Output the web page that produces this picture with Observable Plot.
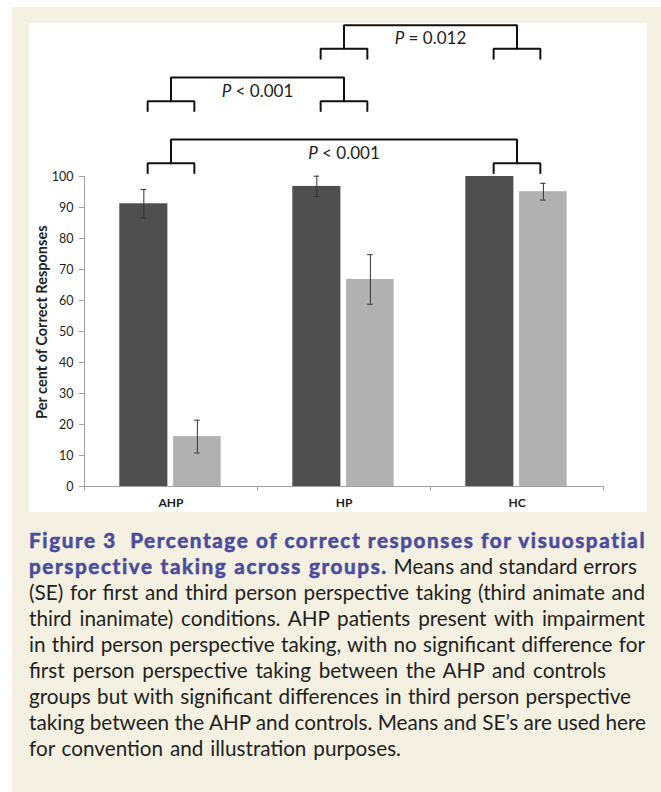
<!DOCTYPE html>
<html>
<head>
<meta charset="utf-8">
<script src="https://cdn.jsdelivr.net/npm/d3@7"></script>
<script src="https://cdn.jsdelivr.net/npm/@observablehq/plot@0.6"></script>
<style>
  html, body { margin: 0; padding: 0; background: #ffffff; }
  body { width: 661px; height: 792px; position: relative; overflow: hidden; }
  #cream { position: absolute; left: 12px; top: 7px; width: 649px; height: 785px; background: #f4f0e2; }
  #panel { position: absolute; left: 29px; top: 23px; width: 618px; height: 489px; background: #ffffff; }
  #panel svg { position: absolute; left: 0; top: 0; }
  #legend { position: absolute; left: 561px; top: 164px; font-family: Lato, sans-serif; font-size: 11.5px; color: #333; }
  #legend .item { height: 26px; display: flex; align-items: center; white-space: nowrap; }
  #legend .sw { width: 6px; height: 6px; margin-right: 3px; display: inline-block; }
  #caption { position: absolute; left: 29px; top: 527px; width: 640px; font-family: Lato, sans-serif; font-size: 20px; line-height: 26px; color: #231f20; }
  #caption .line { white-space: nowrap; height: 26px; }
  #caption b { color: #4b4c9d; font-weight: 700; -webkit-text-stroke: 0.6px #4b4c9d; }
</style>
</head>
<body>
<div id="cream"></div>
<div id="panel"><div id="legend"></div></div>
<div id="caption"></div>
<script>
// ---- data ----
const groups = ["AHP", "HP", "HC"];
const series = ["1st PPT", "3rd PPT"];
const firstMeans = [91.2, 96.8, 100];
const firstSE = [4.6, 3.3, 0];
const thirdMeans = [16.1, 66.8, 95.1];
const thirdSE = [5.3, 8.0, 2.7];
const yTicks = [0, 10, 20, 30, 40, 50, 60, 70, 80, 90, 100];
const bracketFrom = ["AHP", "AHP", "HP"];
const bracketTo = ["HC", "HP", "HC"];
const bracketLevel = [111.9, 131.9, 148.8];
const bracketLabel = ["P < 0.001", "P < 0.001", "P = 0.012"];
const yTitle = "Per cent of Correct Responses";
const captionTitle = ["Figure 3\u00a0\u00a0Percentage of correct responses for visuospatial", "perspective taking across groups."];
const captionLines = [
  " Means and standard errors",
  "(SE) for first and third person perspective taking (third animate and",
  "third inanimate) conditions. AHP patients present with impairment",
  "in third person perspective taking, with no significant difference for",
  "first person perspective taking between the AHP and controls",
  "groups but with significant differences in third person perspective",
  "taking between the AHP and controls. Means and SE\u2019s are used here",
  "for convention and illustration purposes."
];

// ---- derived tables ----
const colors = {"1st PPT": "#4f4f4f", "3rd PPT": "#b1b1b1"};
const barSpan = {"1st PPT": [0.204, 0.482], "3rd PPT": [0.515, 0.79]};
const gi = g => groups.indexOf(g);
const rows = groups.flatMap((g, i) => [
  {group: g, series: series[0], mean: firstMeans[i], se: firstSE[i]},
  {group: g, series: series[1], mean: thirdMeans[i], se: thirdSE[i]}
]);
const cx = d => gi(d.group) + (barSpan[d.series][0] + barSpan[d.series][1]) / 2;
const errRows = rows.filter(d => d.se > 0);
const capW = 0.016;

const HW = 0.135, RISE = 7.6, TICK = 3.2;
const bracketPaths = bracketFrom.flatMap((from, k) => {
  const cL = gi(from) + 0.5, cR = gi(bracketTo[k]) + 0.5;
  const top = bracketLevel[k], mid = top - RISE, low = mid - TICK;
  return [
    [[cL - HW, low], [cL - HW, mid], [cL + HW, mid], [cL + HW, low]],
    [[cR - HW, low], [cR - HW, mid], [cR + HW, mid], [cR + HW, low]],
    [[cL, mid], [cL, top], [cR, top], [cR, mid]]
  ].flatMap((pts, j) => pts.map(([x, y]) => ({x, y, id: k + "-" + j})));
});
const bracketText = bracketFrom.map((from, k) => ({
  x: (gi(from) + gi(bracketTo[k])) / 2 + 0.5,
  y: bracketLevel[k] - 4.4,
  label: bracketLabel[k]
}));
const boundaries = d3.range(groups.length + 1);

const chart = Plot.plot({
  width: 618,
  height: 489,
  marginLeft: 55,
  marginRight: 44,
  marginTop: 0,
  marginBottom: 26,
  style: {fontFamily: "Lato, sans-serif", fontSize: "12px", background: "white", overflow: "visible"},
  x: {type: "linear", domain: [0, groups.length], range: [55, 574], axis: null},
  y: {domain: [0, 150], range: [463, -2], axis: null},
  marks: [
    Plot.axisY(yTicks, {tickSize: 5, tickPadding: 6, stroke: "#a0a0a0", fill: "#222", fontSize: 12.5, label: null}),
    Plot.ruleX([0], {y1: 0, y2: 100, stroke: "#a0a0a0"}),
    Plot.rectY(rows, {
      x1: d => gi(d.group) + barSpan[d.series][0],
      x2: d => gi(d.group) + barSpan[d.series][1],
      y1: 0, y2: "mean",
      fill: d => colors[d.series]
    }),
    Plot.ruleY([0], {x1: 0, x2: groups.length, stroke: "#a0a0a0"}),
    Plot.ruleX(boundaries, {x: d => d, y1: 0, y2: -1.4, stroke: "#a0a0a0"}),
    Plot.ruleX(errRows, {x: cx, y1: d => d.mean - d.se, y2: d => d.mean + d.se, stroke: "#333", strokeWidth: 1}),
    Plot.ruleY(errRows, {x1: d => cx(d) - capW, x2: d => cx(d) + capW, y: d => d.mean + d.se, stroke: "#333", strokeWidth: 1}),
    Plot.ruleY(errRows, {x1: d => cx(d) - capW, x2: d => cx(d) + capW, y: d => d.mean - d.se, stroke: "#333", strokeWidth: 1}),
    Plot.text(groups, {x: (d, i) => i + 0.5, y: 0, dy: 17, text: d => d, fontWeight: "bold", fontSize: 12, fill: "#222"}),
    Plot.text([yTitle], {frameAnchor: "left", textAnchor: "middle", y: 53, dx: -42, rotate: -90, fontWeight: "bold", fontSize: 14.5, fill: "#222"}),
    Plot.line(bracketPaths, {x: "x", y: "y", z: "id", stroke: "#111", strokeWidth: 2, strokeLinejoin: "miter"}),
    Plot.text(bracketText, {x: "x", y: "y", text: "label", fontSize: 17, fill: "#222", lineAnchor: "middle"})
  ]
});

// italic P in the significance labels
chart.querySelectorAll("text").forEach(t => {
  const s = t.textContent;
  if (/^P [<=] /.test(s)) {
    t.textContent = "";
    const ns = "http://www.w3.org/2000/svg";
    const a = document.createElementNS(ns, "tspan");
    a.setAttribute("font-style", "italic");
    a.textContent = "P";
    const b = document.createElementNS(ns, "tspan");
    b.textContent = s.slice(1);
    t.appendChild(a); t.appendChild(b);
  }
});
document.getElementById("panel").appendChild(chart);

// legend
const legend = document.getElementById("legend");
series.forEach(s => {
  const item = document.createElement("div");
  item.className = "item";
  const sw = document.createElement("span");
  sw.className = "sw";
  sw.style.background = colors[s];
  item.appendChild(sw);
  item.appendChild(document.createTextNode(s));
  legend.appendChild(item);
});

// caption
const cap = document.getElementById("caption");
const lineEls = [];
function newLine() {
  const div = document.createElement("div"); div.className = "line";
  const span = document.createElement("span"); div.appendChild(span);
  cap.appendChild(div); lineEls.push(span); return span;
}
let l = newLine();
const b1 = document.createElement("b"); b1.textContent = captionTitle[0]; l.appendChild(b1);
l = newLine();
const b2 = document.createElement("b"); b2.textContent = captionTitle[1]; l.appendChild(b2);
captionLines.forEach((line, i) => {
  if (i > 0) l = newLine();
  l.appendChild(document.createTextNode(line));
});
// line lengths of the reference column (layout, px)
const lineTargets = [616, 608, 616, 616, 616, 577, 602, 617, 372];
const widthOf = el => el.getBoundingClientRect().width;
let ratio = Infinity;
for (let i = 2; i < 8; i++) ratio = Math.min(ratio, lineTargets[i] / widthOf(lineEls[i]));
const fs = 20 * ratio;
cap.style.fontSize = fs.toFixed(2) + "px";
const w1 = widthOf(lineEls[0]);
const ls = (lineTargets[0] - w1) / (captionTitle[0].length - 1);
cap.querySelectorAll("b").forEach(b => b.style.letterSpacing = ls.toFixed(3) + "px");
lineEls.forEach((el, i) => {
  if (i === 0) return;
  const spaces = (el.textContent.match(/ /g) || []).length;
  const extra = lineTargets[i] - widthOf(el);
  if (spaces > 0) el.style.wordSpacing = (extra / spaces).toFixed(3) + "px";
});
</script>
</body>
</html>
